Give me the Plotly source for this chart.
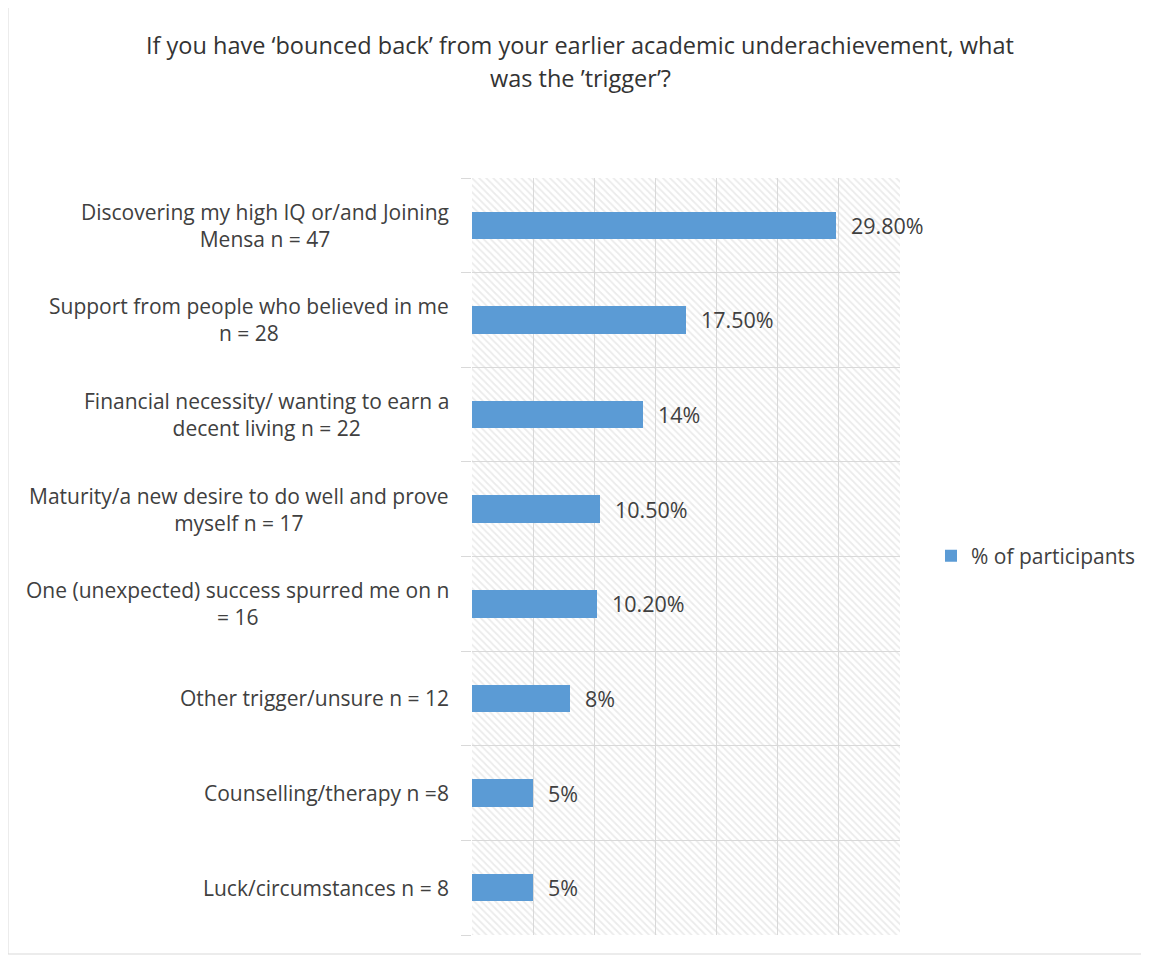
import plotly.graph_objects as go

categories = [
    "Discovering my high IQ or/and Joining<br>Mensa n = 47",
    "Support from people who believed in me<br>n = 28",
    "Financial necessity/ wanting to earn a<br>decent living n = 22",
    "Maturity/a new desire to do well and prove<br>myself n = 17",
    "One (unexpected) success spurred me on n<br>= 16",
    "Other trigger/unsure n = 12",
    "Counselling/therapy n =8",
    "Luck/circumstances n = 8",
]
values = [29.8, 17.5, 14, 10.5, 10.2, 8, 5, 5]
value_labels = ["29.80%", "17.50%", "14%", "10.50%", "10.20%", "8%", "5%", "5%"]
series_name = "% of participants"
title_lines = [
    "If you have ‘bounced back’ from your earlier academic underachievement, what",
    "was the ’trigger’?",
]
x_max = 35

# page body has an 8px margin: figure origin sits at (8, 8) in the screenshot
OFF = 8
W, H = 1149 - OFF, 962 - OFF
ML, MR, MT, MB = 472 - OFF, 249, 178 - OFF, 27
PW, PH = W - ML - MR, H - MT - MB
FONT = "'Open Sans', Lato, sans-serif"
TXT = "#404040"
BLUE = "#5B9BD5"
GRID = "#d9d9d9"

ids = list(range(len(categories)))


def px_x(p):  # screenshot x -> paper x
    return (p - OFF - ML) / PW


def px_y(p):  # screenshot y -> paper y
    return (H - MB - (p - OFF)) / PH


fig = go.Figure()
# hatched plot background
fig.add_trace(go.Bar(
    y=ids, x=[x_max] * len(ids), orientation="h", width=1,
    marker=dict(color="rgba(0,0,0,0)", line=dict(width=0),
                pattern=dict(shape="\\", fgcolor="#d8d8d8", size=5,
                             solidity=0.35, fillmode="overlay")),
    showlegend=False, hoverinfo="skip",
))
fig.add_trace(go.Bar(
    y=ids, x=values, orientation="h", width=0.29, name=series_name,
    marker=dict(color=BLUE, line=dict(width=0)),
))

for i, (v, lab) in enumerate(zip(values, value_labels)):
    fig.add_annotation(x=v, y=i, text=lab, xanchor="left", xshift=13,
                       showarrow=False, font=dict(family=FONT, size=21.5, color=TXT))

for i, c in enumerate(categories):
    fig.add_annotation(x=0, y=i, xref="paper", text=c, xanchor="right", xshift=-21,
                       align="center", showarrow=False,
                       font=dict(family=FONT, size=21, color=TXT))

for yy, t in zip([45, 78], title_lines):
    fig.add_annotation(x=px_x(580), y=px_y(yy), xref="paper", yref="paper", text=t,
                       xanchor="center", yanchor="middle", showarrow=False,
                       font=dict(family=FONT, size=23.5, color="#333333"))

# outer frame
fig.add_shape(type="rect", xref="paper", yref="paper",
              x0=px_x(8), x1=px_x(1144), y0=px_y(954), y1=px_y(7),
              line=dict(color=GRID, width=1), fillcolor="rgba(0,0,0,0)", layer="below")

fig.update_layout(
    width=W, height=H,
    margin=dict(l=ML, r=MR, t=MT, b=MB),
    paper_bgcolor="white", plot_bgcolor="white",
    barmode="overlay", bargap=0,
    font=dict(family=FONT, size=21, color=TXT),
    xaxis=dict(range=[0, x_max], dtick=5, showticklabels=False, showgrid=True,
               gridcolor=GRID, gridwidth=1, zeroline=False, showline=False, ticks=""),
    yaxis=dict(type="category", tickmode="array", tickvals=ids, ticktext=[""] * len(ids),
               autorange="reversed", tickson="boundaries", ticks="outside", ticklen=10,
               tickcolor=GRID, showgrid=True, gridcolor=GRID, gridwidth=1,
               showline=False, zeroline=False),
    legend=dict(xref="container", yref="container", x=(923) / W, y=1 - (556 - OFF) / H,
                xanchor="left", yanchor="middle", bgcolor="rgba(0,0,0,0)",
                font=dict(family=FONT, size=21, color=TXT), itemwidth=30),
    showlegend=True,
)

fig.write_html("out.html")
